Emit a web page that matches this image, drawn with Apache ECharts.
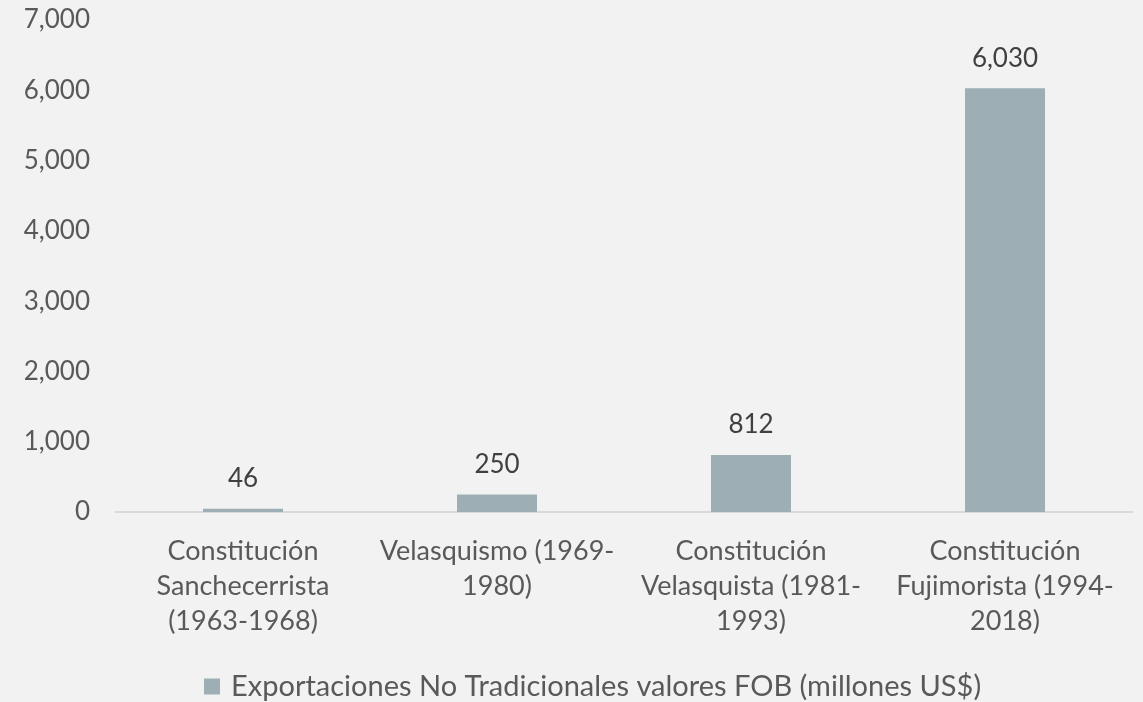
<!DOCTYPE html>
<html>
<head>
<meta charset="utf-8">
<script src="https://cdn.jsdelivr.net/npm/echarts@6/dist/echarts.min.js"></script>
<style>
html, body { margin: 0; padding: 0; background: #f2f2f2; }
#chart0 { width: 1143px; height: 702px; }
</style>
</head>
<body>
<div id="chart0"></div>
<script>
'use strict';

// categorias y valores (millones US$)
var categories = [
	'Constitución\nSanchecerrista\n(1963-1968)',
	'Velasquismo (1969-\n1980)',
	'Constitución\nVelasquista (1981-\n1993)',
	'Constitución\nFujimorista (1994-\n2018)'
];
var values = [ 46, 250, 812, 6030 ];
var series_name = 'Exportaciones No Tradicionales valores FOB (millones US$)';

var font = 'Lato, "Open Sans", sans-serif';
var chart0 = echarts.init(document.getElementById('chart0'));

chart0.setOption({
	backgroundColor : '#f2f2f2',
	animation : false,
	textStyle : {
		fontFamily : font
	},
	grid : {
		left : 116,
		right : 11,
		top : 20,
		bottom : 190
	},
	legend : {
		data : [ series_name ],
		top : 667,
		left : 199,
		itemWidth : 16,
		itemHeight : 16,
		itemGap : 10,
		icon : 'rect',
		textStyle : {
			color : '#595959',
			fontSize : 29,
			padding : [ 0, 0, 0, 6 ],
			fontFamily : font
		}
	},
	xAxis : {
		type : 'category',
		data : categories,
		axisLine : {
			lineStyle : {
				color : '#d9d9d9',
				width : 2
			}
		},
		axisTick : {
			show : false
		},
		axisLabel : {
			color : '#595959',
			fontSize : 27,
			lineHeight : 35,
			margin : 22,
			interval : 0
		}
	},
	yAxis : {
		type : 'value',
		min : 0,
		max : 7000,
		interval : 1000,
		splitLine : {
			show : false
		},
		axisLine : {
			show : false
		},
		axisTick : {
			show : false
		},
		axisLabel : {
			color : '#595959',
			fontSize : 26,
			margin : 26,
			formatter : function(v) {
				return v.toLocaleString('en-US');
			}
		}
	},
	series : [ {
		name : series_name,
		type : 'bar',
		data : values,
		barWidth : '31.5%',
		itemStyle : {
			color : '#9dafb5'
		},
		label : {
			show : true,
			position : 'top',
			distance : 17,
			color : '#404040',
			fontSize : 26,
			formatter : function(p) {
				return p.value.toLocaleString('en-US');
			}
		}
	} ]
});
</script>
</body>
</html>
